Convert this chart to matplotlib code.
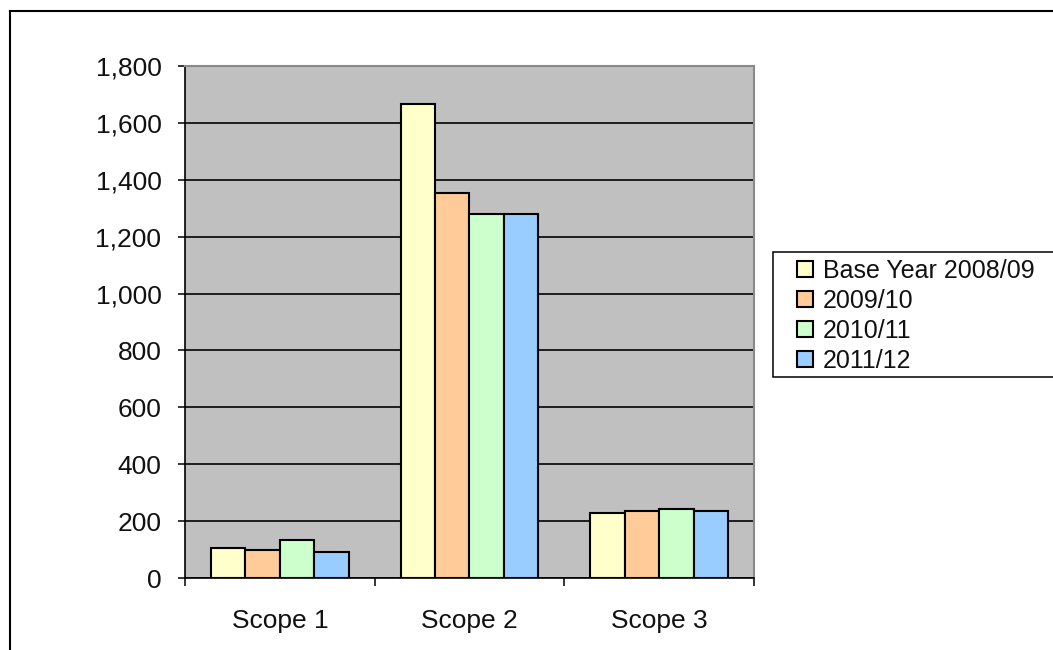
import numpy as np
import matplotlib
matplotlib.use('Agg')
import matplotlib.pyplot as plt
from matplotlib.patches import Rectangle
from matplotlib.lines import Line2D
from matplotlib.ticker import FuncFormatter, FixedLocator

plt.rcParams['font.family'] = ['Liberation Sans', 'DejaVu Sans']

# data
categories = ['Scope 1', 'Scope 2', 'Scope 3']
series = ['Base Year 2008/09', '2009/10', '2010/11', '2011/12']
base_0809 = [104, 1667, 230]
y_0910 = [97, 1355, 236]
y_1011 = [133, 1281, 242]
y_1112 = [91, 1280, 235]
colors = ['#FFFFCC', '#FFCC99', '#CCFFCC', '#99CCFF']

W, H = 1053, 650
fig = plt.figure(figsize=(W / 100, H / 100), dpi=100)

def fx(px):
    return px / W

def fy(py):
    return 1 - py / H

# plot area
ax = fig.add_axes([fx(185), fy(578), fx(754) - fx(185), fy(66) - fy(578)])
ax.set_facecolor('#C0C0C0')

vals = [base_0809, y_0910, y_1011, y_1112]
x = np.arange(len(categories))
bw = 1 / 5.5
for i, (v, c) in enumerate(zip(vals, colors)):
    ax.bar(x + (i - 1.5) * bw, v, bw, color=c, edgecolor='black',
           linewidth=1.5, label=series[i], zorder=3)

ax.set_xlim(-0.5, 2.5)
ax.set_ylim(0, 1800)
ax.set_yticks(np.arange(0, 1801, 200))
ax.yaxis.set_major_formatter(FuncFormatter(lambda v, p: f'{int(v):,}'))
ax.yaxis.grid(True, color='#111111', linewidth=1.3, zorder=1)
ax.set_axisbelow(True)

ax.set_xticks(x)
ax.set_xticklabels(categories)
ax.xaxis.set_minor_locator(FixedLocator([-0.5, 0.5, 1.5, 2.5]))
ax.tick_params(axis='x', which='major', length=0, pad=22, labelsize=19, colors='black')
ax.tick_params(axis='x', which='minor', length=6, width=1.1, direction='out')
ax.tick_params(axis='y', length=5, width=1.1, pad=12, labelsize=19, direction='out')
for t in ax.get_xticklabels() + ax.get_yticklabels():
    t.set_color('#111111')

for s in ['left', 'bottom']:
    ax.spines[s].set_color('black')
    ax.spines[s].set_linewidth(1.2)
for s in ['top', 'right']:
    ax.spines[s].set_color('#8a8a8a')
    ax.spines[s].set_linewidth(1.5)

# legend
fig.patches.append(Rectangle((fx(773), fy(377)), fx(1070) - fx(773), fy(252) - fy(377),
                             transform=fig.transFigure, facecolor='white',
                             edgecolor='black', linewidth=1.1, zorder=0))
leg = fig.legend(loc='center left', bbox_to_anchor=(fx(797), fy(316)),
                 frameon=False, fontsize=18, borderpad=0, borderaxespad=0,
                 handlelength=0.64, handleheight=0.64, handletextpad=0.4,
                 labelspacing=0.24)
for t in leg.get_texts():
    t.set_color('#111111')

# outer chart border
fig.lines.append(Line2D([fx(10), fx(10)], [fy(11), 0], transform=fig.transFigure,
                        color='black', linewidth=1.5))
fig.lines.append(Line2D([fx(10), 1], [fy(11), fy(11)], transform=fig.transFigure,
                        color='black', linewidth=1.5))

fig.savefig('out.png', dpi=100, facecolor='white')
